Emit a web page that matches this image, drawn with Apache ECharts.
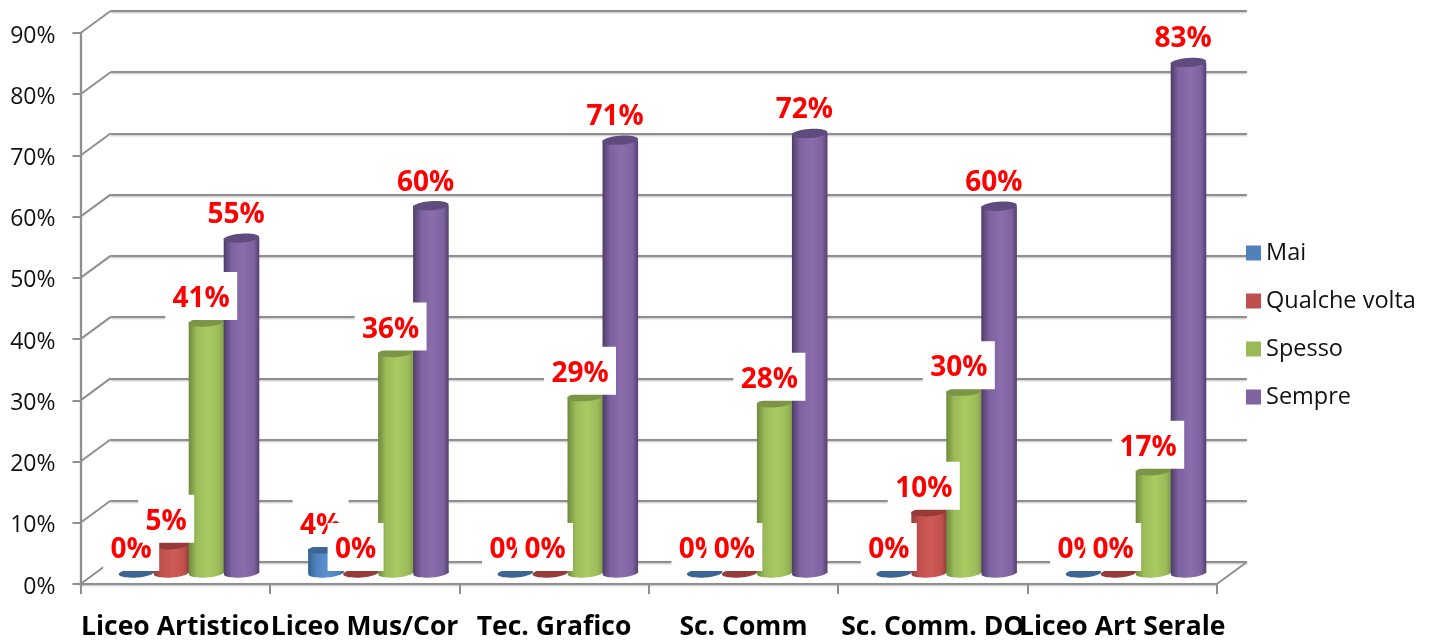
<!DOCTYPE html>
<html><head><meta charset="utf-8">
<style>html,body{margin:0;padding:0;background:#fff}#c{width:1435px;height:642px}</style>
<script src="https://cdn.jsdelivr.net/npm/echarts@6/dist/echarts.min.js"></script>
</head><body><div id="c"></div>
<script>
const categories = ['Liceo Artistico','Liceo Mus/Cor','Tec. Grafico','Sc. Comm','Sc. Comm. DO','Liceo Art Serale'];
const yTicks = [0,10,20,30,40,50,60,70,80,90];
const mai = [0,3.9,0,0,0,0];
const qualche = [4.6,0,0,0,10,0];
const spesso = [41,36,28.8,27.8,29.7,16.7];
const sempre = [54.7,60,70.7,71.8,59.9,83.4];
const seriesNames = ['Mai','Qualche volta','Spesso','Sempre'];
const seriesValues = [mai,qualche,spesso,sempre];
const seriesColors = ['#4F81BD','#C0504D','#9BBB59','#8064A2'];
const topColors = ['#3B6694','#953B38','#7B9445','#5F4B7E'];
const bodyStops = [
  ['#36618F','#4F81BD','#5C92D2','#3F6A9C'],
  ['#95403D','#C0504D','#D05B58','#8F3C39'],
  ['#6E8A3B','#9BBB59','#A8CA62','#7F9C48'],
  ['#4F3C69','#7D62A0','#8B6DAC','#54406E']
];
const hasBox = [true,true,true,false];
const depthX = 30, depthY = 22, plotW = 1136.4, plotH = 551, L = 80.5, T = 33;
const barPitch = 35, barW = 35.6, ry = 4.5, tilt = 0.07, FONT = '"Open Sans", sans-serif', GRID = '#8F8F8F';
const lineLook = {color:GRID,width:2,shadowBlur:2,shadowColor:'rgba(0,0,0,0.25)',shadowOffsetY:1};

const chart = echarts.init(document.getElementById('c'));
function xAx(i, show){ return {
  type:'category', gridIndex:i, data:categories, boundaryGap:true, show,
  axisLine:{lineStyle:lineLook},
  axisTick:{show:true,length:10,interval:0,lineStyle:{color:GRID,width:2}},
  axisLabel:{interval:0,hideOverlap:false,fontFamily:FONT,fontWeight:'bold',fontSize:26.5,color:'#000',margin:30}
};}
function yAx(i, opts){ return Object.assign({type:'value',gridIndex:i,min:0,max:90,interval:10},opts); }

const series = [];
series.push({type:'custom',xAxisIndex:0,yAxisIndex:0,z:1,silent:true,
  data:yTicks.map(v=>[0,v,-1]).concat([[5,0,1]]),
  encode:{x:0,y:1},
  renderItem(p,api){
    const c=api.coord([api.value(0),api.value(1)]), half=api.size([1,0])[0]/2, x=c[0]+api.value(2)*half;
    return {type:'line',shape:{x1:x,y1:c[1],x2:x+depthX,y2:c[1]-depthY},style:{stroke:GRID,lineWidth:2}};
  }});
seriesNames.forEach((name,s)=>{
  series.push({type:'custom',name,xAxisIndex:2,yAxisIndex:2,z:2+s*0.01,silent:true,
    itemStyle:{color:seriesColors[s]},
    data:seriesValues[s].map((v,i)=>[i,v]),
    encode:{x:0,y:1},
    renderItem(p,api){
      const v=api.value(1), top=api.coord([api.value(0),v]), base=api.coord([api.value(0),0]);
      const cx=top[0]-1.2+(s-1.5)*barPitch, rx=barW/2;
      const ell=(cy,fill)=>({type:'ellipse',shape:{cx:0,cy:0,rx,ry},x:cx,y:cy,rotation:tilt,style:{fill}});
      if(v===0) return {type:'group',children:[ell(base[1],topColors[s])]};
      const st=bodyStops[s];
      const grad={type:'linear',x:0,y:0,x2:1,y2:0,colorStops:[
        {offset:0,color:st[0]},{offset:.22,color:st[1]},{offset:.55,color:st[2]},{offset:.85,color:st[1]},{offset:1,color:st[3]}]};
      return {type:'group',children:[
        ell(base[1],grad),
        {type:'rect',shape:{x:cx-rx,y:top[1],width:barW,height:base[1]-top[1]},style:{fill:grad}},
        ell(top[1],topColors[s])
      ]};
    }});
});
seriesNames.forEach((name,s)=>{
  series.push({type:'custom',name:name+' etichette',xAxisIndex:2,yAxisIndex:2,z:5+s*0.01,silent:true,
    data:seriesValues[s].map((v,i)=>[i,v]),
    encode:{x:0,y:1},
    renderItem(p,api){
      const v=api.value(1), c=api.coord([api.value(0),v]);
      const label=Math.round(v)+'%', cx=c[0]+(s-1.5)*barPitch-6.5, boxW=label.length===2?56:72;
      const kids=[];
      if(hasBox[s]) kids.push({type:'rect',shape:{x:cx-boxW/2,y:c[1]-50,width:boxW,height:48},style:{fill:'#FFFFFF'}});
      kids.push({type:'text',x:cx,y:c[1]-23,style:{text:label,fill:'#FF0000',font:'bold 28px '+FONT,align:'center',verticalAlign:'middle'}});
      return {type:'group',children:kids};
    }});
});

chart.setOption({
  animation:false,
  backgroundColor:'#fff',
  grid:[
    {left:L,top:T,width:plotW,height:plotH},
    {left:L+depthX,top:T-depthY,width:plotW,height:plotH},
    {left:L+depthX/2,top:T-depthY/2,width:plotW,height:plotH}
  ],
  xAxis:[xAx(0,true),xAx(1,false),xAx(2,false)],
  yAxis:[
    yAx(0,{axisLine:{show:true,lineStyle:lineLook},
      axisTick:{show:true,length:8,lineStyle:{color:GRID,width:2}},
      splitLine:{show:false},
      axisLabel:{formatter:'{t|{value}%}',margin:25,
        rich:{t:{fontFamily:FONT,fontSize:23,color:'#111',padding:[6,0,0,0]}}}}),
    yAx(1,{axisLine:{show:false},axisTick:{show:false},axisLabel:{show:false},
      splitLine:{show:true,lineStyle:lineLook}}),
    yAx(2,{show:false})
  ],
  legend:{data:seriesNames,orient:'vertical',left:1246,top:241,padding:0,itemWidth:15,itemHeight:15,itemGap:24,
    icon:'rect',selectedMode:false,textStyle:{fontFamily:FONT,fontSize:23.5,color:'#111'}},
  series
});
</script></body></html>
